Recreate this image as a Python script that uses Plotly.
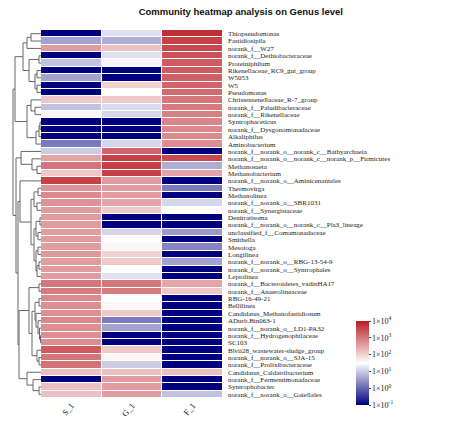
import plotly.graph_objects as go

genera = [
    "Thiopseudomonas", "Fastidiosipila", "norank_f__W27", "norank_f__Dethiobacteraceae",
    "Proteiniphilum", "Rikenellaceae_RC9_gut_group", "W5053", "W5", "Pseudomonas",
    "Christensenellaceae_R-7_group", "norank_f__Paludibacteraceae", "norank_f__Rikenellaceae",
    "Syntrophaceticus", "norank_f__Dysgonomonadaceae", "Alkaliphilus", "Aminobacterium",
    "norank_f__norank_o__norank_c__Bathyarchaeia",
    "norank_f__norank_o__norank_c__norank_p__Firmicutes",
    "Methanosaeta", "Methanobacterium", "norank_f__norank_o__Aminicenantales", "Thermovirga",
    "Methanolinea", "norank_f__norank_o__SBR1031", "norank_f__Synergistaceae", "Denitratisoma",
    "norank_f__norank_o__norank_c__Pla3_lineage", "unclassified_f__Comamonadaceae", "Smithella",
    "Mesotoga", "Longilinea", "norank_f__norank_o__RBG-13-54-9", "norank_f__norank_o__Syntrophales",
    "Leptolinea", "norank_f__Bacteroidetes_vadinHA17", "norank_f__Anaerolineaceae", "RBG-16-49-21",
    "Bellilinea", "Candidatus_Methanofastidiosum", "ADurb.Bin063-1", "norank_f__norank_o__LD1-PA32",
    "norank_f__Hydrogenophilaceae", "SC103", "Blvii28_wastewater-sludge_group",
    "norank_f__norank_o__SJA-15", "norank_f__Prolixibacteraceae", "Candidatus_Caldatribacterium",
    "norank_f__Fermentimonadaceae", "Syntrophobacter", "norank_f__norank_o__Gaiellales",
]
samples = ["S_1", "G_1", "F_1"]

# log10 abundance
S_1 = [-1, 0.6, 2.6, -1, 0.9, -1, 0.6, -1, -1, 2.1, 0.9, 1.4, -1, -1, -1, 0.2,
       1.0, 2.5, 3.0, 2.1, 3.6, 2.7, 2.8, 2.7, 2.6, 2.6, 2.6, 2.6, 2.6, 2.6,
       2.65, 2.6, 2.6, 2.6, 3.0, 2.95, 2.8, 2.75, 2.75, 2.85, 2.75, 2.75, 2.75, 3.3,
       3.0, 3.05, 2.2, -1, 2.2, 2.2]
G_1 = [1.2, 0.7, 2.2, 1.2, 1.4, -1, -1, 2.0, 1.5, 2.1, 1.15, 1.1, -1, -1, -1, 1.1,
       3.2, 3.6, 3.6, 3.6, 2.6, 2.6, 2.6, 2.5, 2.1, -1, -1, 1.1, 1.5, 1.6,
       2.0, 2.1, 1.5, 1.2, 3.0, 2.95, 1.5, 1.6, 2.1, 0.2, 0.6, -1, -1, 2.1,
       1.6, 1.0, 2.2, 2.6, 2.6, 2.6]
F_1 = [3.8, 3.6, 3.5, 3.4, 3.3, 3.3, 3.25, 3.2, 3.15, 3.0, 2.95, 2.9, 2.85, 2.8, 2.8, 2.75,
       -1, 3.5, 0.7, 2.5, -1, 0.2, -1, 1.1, 1.5, -1, -1, 0.5, -1, 0.3,
       -1, 0.6, -1, -1, 2.5, 2.1, -1, -1, -1, -1, -1, -1, -1, -1,
       -1, -1, 2.2, -1, -1, 0.9]

cb_vals = [-1, 0, 1, 2, 3, 4]
cb_text = ["1×10<sup>-1</sup>", "1×10<sup>0</sup>", "1×10<sup>1</sup>",
           "1×10<sup>2</sup>", "1×10<sup>3</sup>", "1×10<sup>4</sup>"]

# row dendrogram: (left, right, merge height); ints are row indices
A1 = (((0, 1, 10), 2, 14), ((3, 4, 2), ((5, 6, 4), (7, 8, 4), 6), 12), 18)
A2 = ((9, (10, 11, 6), 10), (((12, 13, 1), 14, 2), 15, 5), 14)
A = (A1, A2, 26)
B = (16, (17, (18, 19, 4), 9), 20)
Ca = (20, (((21, 22, 3), (23, 24, 4), 7),
           (((25, 26, 1), (27, 28, 3), 5), ((29, 30, 3), ((31, 32, 2), 33, 4), 5), 7), 10), 21)
Cb = ((34, 35, 2), (((36, 37, 2), (38, (39, (40, (41, 42, 0.5), 1.5), 3), 5), 6),
                    (43, (44, 45, 2), 4), 9), 12)
D = (46, (47, (48, 49, 2), 8), 14)
C = (Ca, (Cb, D, 22), 23)
tree = (A, (B, C, 25), 28)

z = [[s, g, f] for s, g, f in zip(S_1, G_1, F_1)]
rows = list(range(len(genera)))

dx, dy = [], []


def walk(node):
    if isinstance(node, int):
        return float(node), 0.0
    left, right, h = node
    yl, hl = walk(left)
    yr, hr = walk(right)
    dx.extend([hl, h, h, hr, None])
    dy.extend([yl, yl, yr, yr, None])
    return (yl + yr) / 2, h


walk(tree)

W, H = 474, 439
serif = "Liberation Serif, Times New Roman, serif"

fig = go.Figure()
fig.add_trace(go.Heatmap(
    x=[0, 1, 2], y=rows, z=z, zmin=-1, zmax=4,
    colorscale=[[0, "#00007f"], [0.5, "#ffffff"], [1, "#b81d24"]],
    xgap=1, ygap=1,
    colorbar=dict(
        x=356 / W, xanchor="left", y=1 - 363 / H, yanchor="middle",
        len=84 / H, lenmode="fraction", thickness=13, outlinewidth=0,
        xpad=0, ypad=0,
        tickvals=cb_vals, ticktext=cb_text, ticks="outside", ticklen=2,
        tickfont=dict(family=serif, size=8, color="#222"),
    ),
    hoverinfo="skip",
))
fig.add_trace(go.Scatter(
    x=dx, y=dy, mode="lines", xaxis="x2", yaxis="y2",
    line=dict(color="#666666", width=1), hoverinfo="skip", showlegend=False,
))

ydom = [1 - 398 / H, 1 - 30 / H]
fig.update_layout(
    width=W, height=H, margin=dict(l=0, r=0, t=0, b=0, autoexpand=False),
    paper_bgcolor="white", plot_bgcolor="white",
    title=dict(text="<b>Community heatmap analysis on Genus level</b>",
               x=0.508, xanchor="center", y=1 - 12 / H, yanchor="middle",
               font=dict(family="Liberation Sans, Arial, sans-serif", size=9.5, color="#111")),
    xaxis=dict(domain=[41 / W, 223 / W], tickvals=[0, 1, 2], ticktext=samples,
               tickangle=-50, tickfont=dict(family=serif, size=8.5, color="#222"),
               showgrid=False, zeroline=False, ticks="", showline=False,
               range=[-0.5, 2.5], automargin=False),
    yaxis=dict(domain=ydom, range=[49.5, -0.5], side="right", tickvals=rows,
               ticktext=genera, tickfont=dict(family=serif, size=7.0, color="#222"),
               showgrid=False, zeroline=False, ticks="", ticklabelstandoff=4,
               automargin=False),
    xaxis2=dict(domain=[10 / W, 41 / W], range=[31, 0], visible=False, anchor="y2",
                automargin=False),
    yaxis2=dict(domain=ydom, range=[49.5, -0.5], visible=False, anchor="x2",
                automargin=False),
)

fig.write_html("out.html", config={"displayModeBar": False},
               post_script="document.body.style.margin='0';document.body.style.overflow='hidden';")
